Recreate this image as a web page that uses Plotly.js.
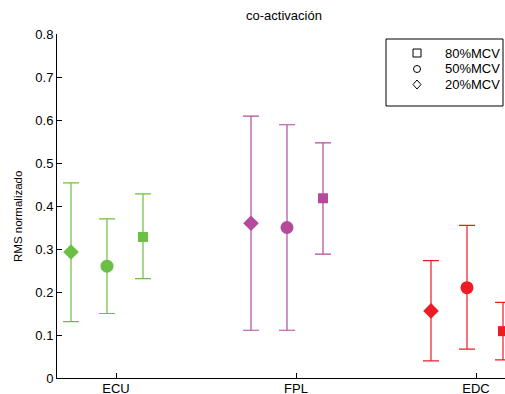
<!DOCTYPE html>
<html><head><meta charset="utf-8">
<script src="https://cdn.plot.ly/plotly-3.0.1.min.js"></script>
<style>html,body{margin:0;padding:0;background:#fff;}#chart{width:505px;height:394px;}</style>
</head><body><div id="chart"></div>
<script>
// ---- data ----
const muscles = ['ECU', 'FPL', 'EDC'];
const levels = ['20%MCV', '50%MCV', '80%MCV'];
// mean values per muscle, ordered as levels (20, 50, 80)
const meanECU = [0.293, 0.260, 0.328];
const meanFPL = [0.360, 0.350, 0.418];
const meanEDC = [0.156, 0.210, 0.109];
// upper / lower ends of the error bars
const upperECU = [0.454, 0.370, 0.428];
const lowerECU = [0.131, 0.150, 0.231];
const upperFPL = [0.609, 0.589, 0.547];
const lowerFPL = [0.111, 0.111, 0.288];
const upperEDC = [0.273, 0.355, 0.176];
const lowerEDC = [0.040, 0.067, 0.042];
const yTicks = [0, 0.1, 0.2, 0.3, 0.4, 0.5, 0.6, 0.7, 0.8];
const yTickText = ['0', '0.1', '0.2', '0.3', '0.4', '0.5', '0.6', '0.7', '0.8'];

// ---- styling ----
const colors = ['#6cbf45', '#b54a9c', '#ed1c24'];
const symbols = ['diamond', 'circle', 'square'];
const sizes = [12, 13, 10];
const offsets = [-0.25, -0.05, 0.15];
const FONT = 'Liberation Sans, Arial, Helvetica, sans-serif';

const means = [meanECU, meanFPL, meanEDC];
const uppers = [upperECU, upperFPL, upperEDC];
const lowers = [lowerECU, lowerFPL, lowerEDC];

const traces = [];
muscles.forEach((m, i) => {
  levels.forEach((lv, j) => {
    const v = means[i][j];
    traces.push({
      type: 'scatter', mode: 'markers',
      x: [i + 1 + offsets[j]], y: [v],
      name: m + ' ' + lv, showlegend: false,
      marker: {symbol: symbols[j], size: sizes[j], color: colors[i], line: {width: 0}},
      error_y: {type: 'data', symmetric: false,
        array: [uppers[i][j] - v], arrayminus: [v - lowers[i][j]],
        color: colors[i], thickness: 1.2, width: 8},
      hoverinfo: 'skip'
    });
  });
});

// plot-area geometry in pixels for paper-coordinate decorations
const L = 57, R = 505, T = 34, B = 378;
const px = x => (x - L) / (R - L);
const py = y => (B - y) / (B - T);

const legendKeys = ['80%MCV', '50%MCV', '20%MCV'];
const legendRowsY = [53, 69, 84.5];
const shapes = [
  {type: 'rect', xref: 'paper', yref: 'paper', x0: px(386), x1: px(503), y0: py(106), y1: py(39),
   line: {color: '#000', width: 1}, fillcolor: 'rgba(0,0,0,0)'},
  {type: 'rect', xref: 'paper', yref: 'paper', xsizemode: 'pixel', ysizemode: 'pixel',
   xanchor: px(417), yanchor: py(legendRowsY[0]), x0: -4, x1: 4, y0: -4, y1: 4,
   line: {color: '#000', width: 1}},
  {type: 'circle', xref: 'paper', yref: 'paper', xsizemode: 'pixel', ysizemode: 'pixel',
   xanchor: px(417), yanchor: py(legendRowsY[1]), x0: -3.5, x1: 3.5, y0: -3.5, y1: 3.5,
   line: {color: '#000', width: 1}},
  {type: 'path', xref: 'paper', yref: 'paper', xsizemode: 'pixel', ysizemode: 'pixel',
   xanchor: px(417), yanchor: py(legendRowsY[2]), path: 'M 0 4.5 L 4 0 L 0 -4.5 L -4 0 Z',
   line: {color: '#000', width: 1}}
];

const annotations = [
  {text: 'co-activación', xref: 'paper', yref: 'paper', x: px(284), y: py(16),
   xanchor: 'center', yanchor: 'middle', showarrow: false, font: {family: FONT, size: 13, color: '#000'}},
  {text: 'RMS normalizado', xref: 'paper', yref: 'paper', x: px(18), y: py(217), textangle: -90,
   xanchor: 'center', yanchor: 'middle', showarrow: false, font: {family: FONT, size: 11.5, color: '#000'}}
];
legendKeys.forEach((k, j) => {
  annotations.push({text: k, xref: 'paper', yref: 'paper', x: px(443), y: py(legendRowsY[j]),
    xanchor: 'left', yanchor: 'middle', showarrow: false, font: {family: FONT, size: 13, color: '#000'}});
});

const layout = {
  width: 505, height: 394,
  margin: {l: L, r: 505 - R, t: T, b: 394 - B, pad: 0},
  paper_bgcolor: '#fff', plot_bgcolor: '#fff',
  showlegend: false,
  font: {family: FONT, size: 13, color: '#000'},
  xaxis: {range: [1 - 59 / 180, 1 - 59 / 180 + 448 / 180], tickvals: [1, 2, 3], ticktext: muscles,
    showgrid: false, zeroline: false, showline: true, linecolor: '#000', linewidth: 1,
    ticks: 'inside', ticklen: 5, tickcolor: '#000', tickfont: {family: FONT, size: 13},
    ticklabelstandoff: -2, fixedrange: true},
  yaxis: {range: [0, 0.8], tickvals: yTicks, ticktext: yTickText,
    showgrid: false, zeroline: false, showline: true, linecolor: '#000', linewidth: 1,
    ticks: 'inside', ticklen: 5, tickcolor: '#000', tickfont: {family: FONT, size: 13}, fixedrange: true},
  shapes: shapes,
  annotations: annotations
};

Plotly.newPlot('chart', traces, layout, {displayModeBar: false, staticPlot: true});
</script>
</body></html>
